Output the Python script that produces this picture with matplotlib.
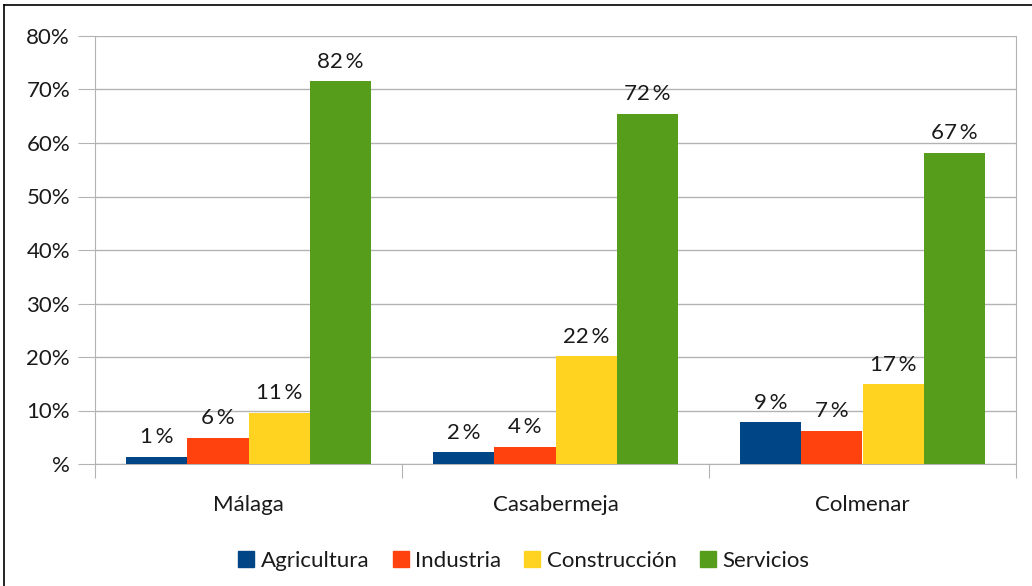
import numpy as np
import matplotlib.pyplot as plt
from matplotlib.lines import Line2D

# data
municipios = ["Málaga", "Casabermeja", "Colmenar"]
sectores = ["Agricultura", "Industria", "Construcción", "Servicios"]
agricultura = [1.3, 2.2, 7.8]
industria = [4.9, 3.2, 6.2]
construccion = [9.5, 20.1, 14.9]
servicios = [71.5, 65.4, 58.2]
etiquetas = [["1\u2009%", "2\u2009%", "9\u2009%"],
             ["6\u2009%", "4\u2009%", "7\u2009%"],
             ["11\u2009%", "22\u2009%", "17\u2009%"],
             ["82\u2009%", "72\u2009%", "67\u2009%"]]
ytick_labels = ["%", "10%", "20%", "30%", "40%", "50%", "60%", "70%", "80%"]
colores = ["#004586", "#ff420e", "#ffd320", "#579d1c"]

plt.rcParams['font.family'] = ['Lato', 'DejaVu Sans']
fs = 16

fig = plt.figure(figsize=(10.32, 5.86), dpi=100)
ax = fig.add_axes([95/1032, 122/586, 921/1032, 428/586])

series = [agricultura, industria, construccion, servicios]
x = np.arange(len(municipios))
w = 0.2
for i, vals in enumerate(series):
    pos = x - 0.3 + i*w
    ax.bar(pos, vals, width=w, color=colores[i], zorder=3)
    for p, v, t in zip(pos, vals, etiquetas[i]):
        ax.annotate(t, (p, v), xytext=(0, 7), textcoords='offset points',
                    ha='center', va='bottom', fontsize=fs, color='#1a1a1a')

ax.set_xlim(-0.5, 2.5)
ax.set_ylim(0, 80)
ax.set_yticks(range(0, 81, 10))
ax.set_yticklabels(ytick_labels)
ax.yaxis.grid(True, color='#b3b3b3', lw=1, zorder=0)
ax.set_xticks([-0.5, 0.5, 1.5, 2.5])
ax.set_xticklabels([])
ax.set_xticks(x, minor=True)
ax.set_xticklabels(municipios, minor=True)
ax.tick_params(axis='x', which='minor', length=0, pad=22, labelsize=fs, labelcolor='#1a1a1a')
ax.tick_params(axis='x', which='major', length=10, color='#b3b3b3')
ax.tick_params(axis='y', length=12, color='#b3b3b3', labelsize=fs, pad=6, labelcolor='#1a1a1a')
for s in ['left', 'right', 'bottom']:
    ax.spines[s].set_color('#b3b3b3')
ax.spines['top'].set_visible(False)

handles = [Line2D([], [], marker='s', ls='', color=c, markersize=12) for c in colores]
leg = fig.legend(handles, sectores, loc='center', bbox_to_anchor=(0.505, 1 - 561/586),
                 ncol=4, frameon=False, fontsize=fs, handletextpad=0.05,
                 columnspacing=0.8, handlelength=1.2)
for t in leg.get_texts():
    t.set_color('#1a1a1a')

# outer frame of the original chart
fig.add_artist(Line2D([4/1032, 4/1032], [0, 1 - 5/586], color='black', lw=1.2))
fig.add_artist(Line2D([4/1032, 1], [1 - 5/586, 1 - 5/586], color='black', lw=1.2))

fig.savefig("out.png", dpi=100)
